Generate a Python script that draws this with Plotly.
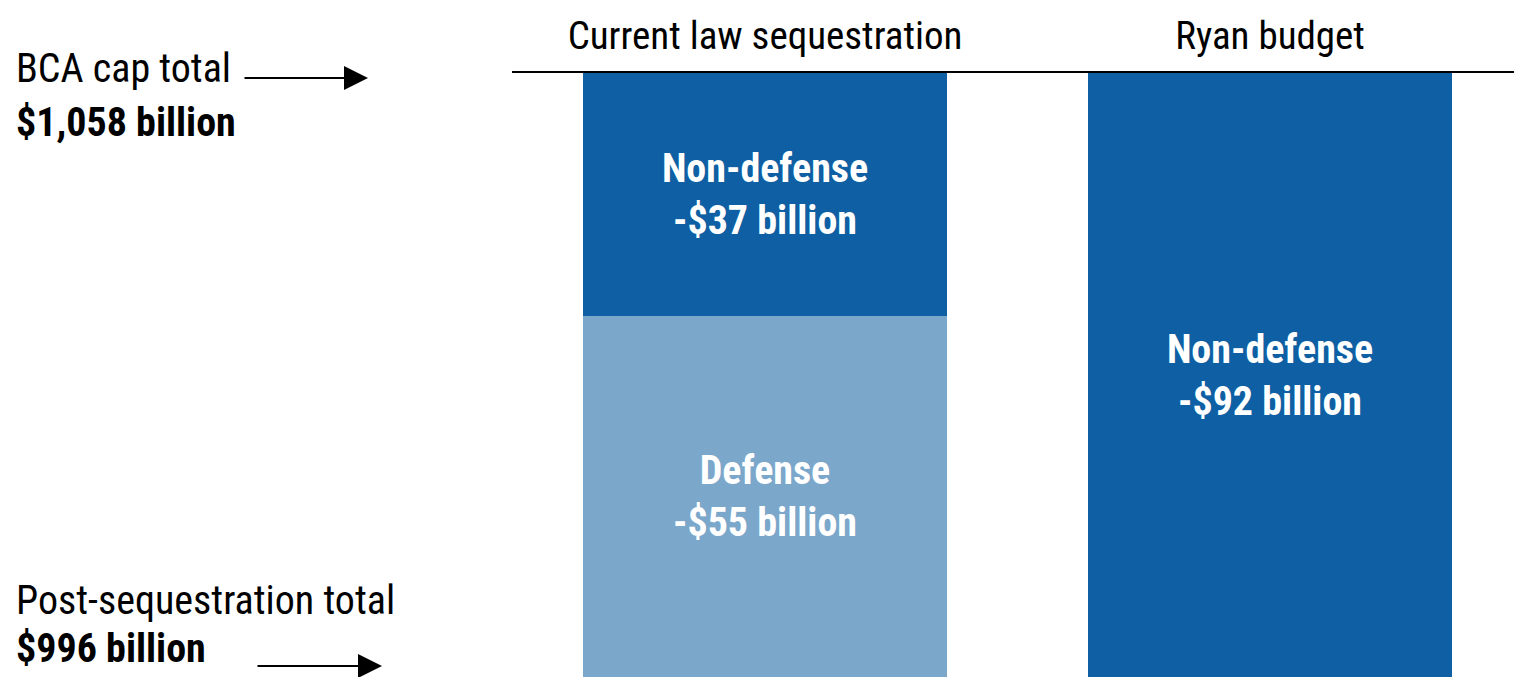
import plotly.graph_objects as go

# Scenario columns and the cuts each one makes below the BCA cap
scenarios = ["Current law sequestration", "Ryan budget"]
nondefense_cut = [37, 92]
defense_cut = [55, 0]

cap_total = "1,058"
post_total = "996"

FONT = "Liberation Sans Narrow, Roboto Condensed, DejaVu Sans Condensed, Arial Narrow, sans-serif"
DARK = "#0E5FA3"
LIGHT = "#7BA7CB"

x_pos = list(range(len(scenarios)))

fig = go.Figure()
fig.add_trace(go.Bar(
    x=x_pos, y=nondefense_cut, marker_color=DARK, width=0.722,
    marker_line_width=0,
    text=[f"<b>Non-defense<br>-${v} billion</b>" for v in nondefense_cut],
    textposition="inside", insidetextanchor="middle", textangle=0,
    textfont=dict(family=FONT, size=40, color="white"),
    constraintext="none", hoverinfo="skip",
))
fig.add_trace(go.Bar(
    x=x_pos, y=defense_cut, marker_color=LIGHT, width=0.722,
    marker_line_width=0,
    text=[f"<b>Defense<br>-${v} billion</b>" if v else "" for v in defense_cut],
    textposition="inside", insidetextanchor="middle", textangle=0,
    textfont=dict(family=FONT, size=40, color="white"),
    constraintext="none", hoverinfo="skip",
))

W, H, TOP = 1514, 677, 73


def py(pix):
    # paper y from a pixel row measured from the top of the page
    return (H - pix) / (H - TOP)


fig.update_layout(
    width=W, height=H, barmode="stack", bargap=0,
    margin=dict(l=0, r=0, t=TOP, b=0),
    paper_bgcolor="white", plot_bgcolor="white",
    showlegend=False,
    font=dict(family=FONT, color="black"),
    xaxis=dict(
        domain=[512 / W, 1], range=[-0.501, 1.483],
        tickmode="array", tickvals=x_pos, ticktext=scenarios,
        side="top", showline=True, linecolor="black", linewidth=2,
        showgrid=False, zeroline=False, ticks="",
        tickfont=dict(family=FONT, size=39, color="black"),
        ticklabelstandoff=6,
    ),
    yaxis=dict(
        range=[92, 0], visible=False, showgrid=False, zeroline=False,
    ),
)

left_notes = [
    ("BCA cap total", 68, False),
    (f"${cap_total} billion", 122, True),
    ("Post-sequestration total", 600, False),
    (f"${post_total} billion", 648, True),
]
for txt, row, bold in left_notes:
    fig.add_annotation(
        xref="paper", yref="paper", x=14 / W, y=py(row),
        xanchor="left", yanchor="middle", showarrow=False,
        text=f"<b>{txt}</b>" if bold else txt,
        font=dict(family=FONT, size=40, color="black"),
    )

# Pointer arrows next to the two totals
for x0, x1, row in [(243, 368, 78), (256, 382, 666)]:
    fig.add_annotation(
        xref="paper", yref="paper", x=x1 / W, y=py(row),
        ax=x0 - x1, ay=0, axref="pixel", ayref="pixel",
        text="", showarrow=True, arrowhead=2, arrowsize=2.4,
        arrowwidth=2, arrowcolor="black",
    )

fig.write_html("out.html")
